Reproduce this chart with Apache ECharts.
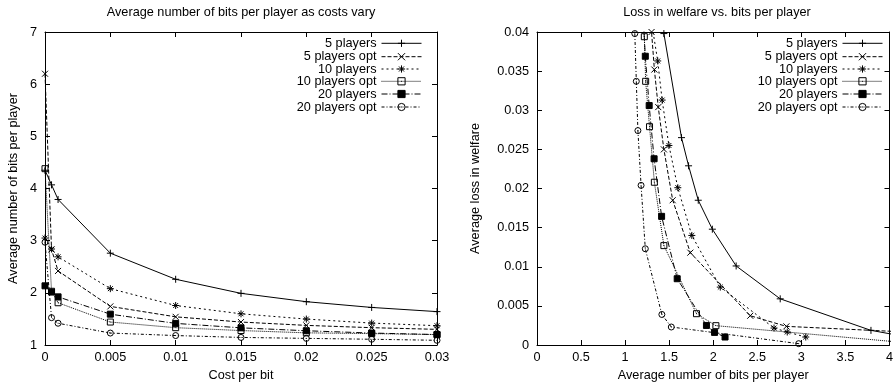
<!DOCTYPE html>
<html><head><meta charset="utf-8">
<script src="https://cdn.jsdelivr.net/npm/echarts@6/dist/echarts.min.js"></script>
<style>html,body{margin:0;padding:0;background:#fff}#c{width:896px;height:387px}</style>
</head><body><div id="c"></div>
<script>
// ---------- data ----------
const seriesNames = ['5 players', '5 players opt', '10 players', '10 players opt', '20 players', '20 players opt'];
const costs = [0, 0.0005, 0.001, 0.005, 0.01, 0.015, 0.02, 0.025, 0.03];

// average bits per player (index matches costs; trailing extra entries are beyond the cost range shown)
const bits5     = [4.35, 4.07, 3.79, 2.76, 2.26, 1.99, 1.83, 1.72, 1.64, 1.44];
const bits5opt  = [6.2, 2.83, 2.42, 1.74, 1.54, 1.44, 1.376, 1.332, 1.30];
const bits10    = [3.05, 2.84, 2.69, 2.08, 1.757, 1.598, 1.497, 1.42, 1.37, 1.31];
const bits10opt = [4.38, 2.03, 1.81, 1.44, 1.332, 1.277, 1.233, 1.218, 1.20];
const bits20    = [2.134, 2.015, 1.923, 1.591, 1.414, 1.329, 1.273, 1.229, 1.20];
const bits20opt = [2.97, 1.524, 1.417, 1.229, 1.181, 1.145, 1.127, 1.11, 1.09];

// average loss in welfare (same index as bits arrays)
const loss5     = [0.0009, 0.0013, 0.00187, 0.0059, 0.0101, 0.0148, 0.0185, 0.0229, 0.0265, 0.0398];
const loss5opt  = [0.0006, 0.00238, 0.00374, 0.0118, 0.0185, 0.025, 0.0304, 0.0352, 0.0400];
const loss10    = [0.00102, 0.00166, 0.00217, 0.0074, 0.0140, 0.0201, 0.0255, 0.0313, 0.0363, 0.0405];
const loss10opt = [0.0001, 0.00247, 0.0040, 0.0127, 0.0208, 0.0279, 0.0337, 0.0394, 0.045];
const loss20    = [0.00102, 0.00161, 0.0025, 0.00847, 0.01644, 0.0238, 0.0306, 0.0369, 0.043];
const loss20opt = [0.00017, 0.0023, 0.0039, 0.0123, 0.0204, 0.0274, 0.0337, 0.0398, 0.046];

const leftXTicks  = [0, 0.005, 0.01, 0.015, 0.02, 0.025, 0.03];
const leftYTicks  = [1, 2, 3, 4, 5, 6, 7];
const rightXTicks = [0, 0.5, 1, 1.5, 2, 2.5, 3, 3.5, 4];
const rightYTicks = [0, 0.005, 0.01, 0.015, 0.02, 0.025, 0.03, 0.035, 0.04];

const leftTitle = 'Average number of bits per player as costs vary';
const rightTitle = 'Loss in welfare vs. bits per player';
const leftXName = 'Cost per bit';
const leftYName = 'Average number of bits per player';
const rightXName = 'Average number of bits per player';
const rightYName = 'Average loss in welfare';

// ---------- styling ----------
const FONT = 'Liberation Sans, Arial, Helvetica, sans-serif';
const FS = 12.7;
const bitsAll = [bits5, bits5opt, bits10, bits10opt, bits20, bits20opt];
const lossAll = [loss5, loss5opt, loss10, loss10opt, loss20, loss20opt];

const PLUS = 'path://M0,5L10,5M5,0L5,10';
const CROSS = 'path://M0,0L10,10M10,0L0,10';
const STAR = 'path://M0,5L10,5M5,0L5,10M1.5,1.5L8.5,8.5M8.5,1.5L1.5,8.5';
const OSQUARE = 'path://M0,0L10,0L10,10L0,10ZM5,4.4L5,5.6';
const OCIRCLE = 'path://M0,5A5,5,0,1,1,10,5A5,5,0,1,1,0,5ZM5,4.4L5,5.6';
const styles = [
  { symbol: PLUS, size: 7, dash: 'solid', fill: 'none' },
  { symbol: CROSS, size: 6, dash: [4, 2], fill: 'none' },
  { symbol: STAR, size: 7, dash: [2, 3], fill: 'none' },
  { symbol: OSQUARE, size: 6, dash: [1, 1], fill: 'none' },
  { symbol: 'rect', size: 6, dash: [6, 2, 1, 2], fill: '#000' },
  { symbol: OCIRCLE, size: 6, dash: [3, 2, 1, 2], fill: 'none' }
];

function mkSeries(i, xi, yi, data) {
  const s = styles[i];
  return {
    type: 'line', name: seriesNames[i], xAxisIndex: xi, yAxisIndex: yi, data: data,
    symbol: s.symbol, symbolSize: s.size, symbolKeepAspect: true, showSymbol: true,
    lineStyle: { color: '#000', width: 1, type: s.dash },
    itemStyle: { color: s.fill, borderColor: '#000', borderWidth: 1 },
    emphasis: { disabled: true }, clip: true, animation: false, z: 3
  };
}

const series = [];
for (let i = 0; i < 6; i++) {
  series.push(mkSeries(i, 0, 0, costs.map((c, j) => [c, bitsAll[i][j]])));
  series.push(mkSeries(i, 2, 2, bitsAll[i].map((b, j) => [b, lossAll[i][j]])));
}

const labelStyle = { color: '#000', fontFamily: FONT, fontSize: FS };
function axis(ticks, gridIndex, position, show, extra) {
  return Object.assign({
    type: 'value', gridIndex: gridIndex, position: position,
    min: ticks[0], max: ticks[ticks.length - 1], interval: ticks[1] - ticks[0],
    axisLine: { show: true, onZero: false, lineStyle: { color: '#000', width: 1 } },
    axisTick: { show: true, inside: true, length: 5, lineStyle: { color: '#000', width: 1 } },
    axisLabel: Object.assign({ show: show }, labelStyle),
    splitLine: { show: false }
  }, extra || {});
}

const xAxis = [
  axis(leftXTicks, 0, 'bottom', true, { name: leftXName, nameLocation: 'middle', nameGap: 24, nameTextStyle: labelStyle, axisLabel: Object.assign({ show: true, margin: 6 }, labelStyle) }),
  axis(leftXTicks, 0, 'top', false),
  axis(rightXTicks, 1, 'bottom', true, { name: rightXName, nameLocation: 'middle', nameGap: 24, nameTextStyle: labelStyle, axisLabel: Object.assign({ show: true, margin: 6 }, labelStyle) }),
  axis(rightXTicks, 1, 'top', false)
];
const yAxis = [
  axis(leftYTicks, 0, 'left', true, { name: leftYName, nameLocation: 'middle', nameGap: 25, nameRotate: 90, nameTextStyle: labelStyle, axisLabel: Object.assign({ show: true, margin: 8 }, labelStyle) }),
  axis(leftYTicks, 0, 'right', false),
  axis(rightYTicks, 1, 'left', true, { name: rightYName, nameLocation: 'middle', nameGap: 55, nameRotate: 90, nameTextStyle: labelStyle, axisLabel: Object.assign({ show: true, margin: 8 }, labelStyle) }),
  axis(rightYTicks, 1, 'right', false)
];

const legendRows = [43.3, 56.7, 69, 81.3, 94, 107];
const legends = [];
[474, 13].forEach(function (r) {
  seriesNames.forEach(function (n, k) {
    const s = styles[k];
    legends.push({
      data: [{
        name: n,
        itemStyle: { color: s.fill, borderColor: '#000', borderWidth: 1 },
        lineStyle: { color: '#000', width: 1, type: s.dash }
      }],
      right: r, top: legendRows[k] - 6.5, orient: 'horizontal', align: 'right',
      itemWidth: 40, itemHeight: 9, itemGap: 0, padding: 0, selectedMode: false,
      itemStyle: { color: s.fill, borderColor: '#000', borderWidth: 1 },
      lineStyle: { color: '#000', width: 1, type: s.dash },
      textStyle: { color: '#000', fontFamily: FONT, fontSize: FS, lineHeight: 13 }
    });
  });
});

const chart = echarts.init(document.getElementById('c'), null, { renderer: 'canvas' });
chart.setOption({
  backgroundColor: '#fff',
  animation: false,
  grid: [
    { left: 45, top: 32, width: 392, height: 313.3 },
    { left: 537, top: 32, width: 361, height: 313.3 }
  ],
  xAxis: xAxis,
  yAxis: yAxis,
  legend: legends,
  graphic: [
    { type: 'text', x: 241, y: 6, style: { text: leftTitle, font: FS + 'px ' + FONT, fill: '#000', align: 'center', verticalAlign: 'top' } },
    { type: 'text', x: 717, y: 6, style: { text: rightTitle, font: FS + 'px ' + FONT, fill: '#000', align: 'center', verticalAlign: 'top' } }
  ],
  series: series
});
</script></body></html>
